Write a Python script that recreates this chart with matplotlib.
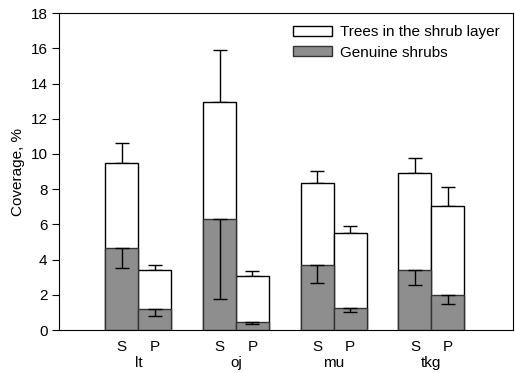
import numpy as np
import matplotlib.pyplot as plt
from matplotlib.patches import Patch

plt.rcParams['font.family'] = ['Liberation Sans', 'DejaVu Sans']

sites = ["lt", "oj", "mu", "tkg"]
subs = ["S", "P"]

# total coverage (trees in shrub layer + genuine shrubs), per site: S, P
total = [[9.5, 3.4], [12.95, 3.05], [8.38, 5.5], [8.9, 7.07]]
total_err = [[1.15, 0.3], [2.95, 0.3], [0.67, 0.42], [0.85, 1.05]]
genuine = [[4.65, 1.2], [6.3, 0.45], [3.7, 1.28], [3.4, 1.99]]
genuine_err = [[1.15, 0.42], [4.55, 0.12], [1.0, 0.28], [0.86, 0.52]]

grey = "#8e8e8e"

fig = plt.figure(figsize=(5.15, 3.73), dpi=100)
ax = fig.add_axes([0.115, 0.115, 0.882, 0.85])

w = 0.337
pos = np.arange(1, len(sites) + 1)
ticks, ticklabels = [], []
for i, site in enumerate(sites):
    for j, s in enumerate(subs):
        x = pos[i] + (j - 0.5) * w
        ax.bar(x, total[i][j], width=w, color="white", edgecolor="black", linewidth=1.0, zorder=2)
        ax.errorbar(x, total[i][j], yerr=[[0], [total_err[i][j]]], color="black",
                    capsize=5, capthick=1, elinewidth=1, zorder=1)
        ax.bar(x, genuine[i][j], width=w, color=grey, edgecolor="#333333", linewidth=1.0, zorder=3)
        ax.errorbar(x, genuine[i][j], yerr=[[genuine_err[i][j]], [0]], color="black",
                    capsize=5, capthick=1, elinewidth=1, zorder=4)
        ticks.append(x)
        ticklabels.append(s)

ax.set_xlim(0.19, 4.84)
ax.set_ylim(0, 18)
ax.set_yticks(range(0, 19, 2))
ax.set_xticks(ticks)
ax.set_xticklabels(ticklabels, fontsize=11)
ax.tick_params(axis="x", length=0, pad=7)
ax.tick_params(axis="y", labelsize=11, direction="out", length=5)
for i, site in enumerate(sites):
    ax.text(pos[i], -0.083, site, transform=ax.get_xaxis_transform(),
            ha="center", va="top", fontsize=11)

ax.set_ylabel("Coverage, %", fontsize=11, labelpad=4)

handles = [Patch(facecolor="white", edgecolor="black", label="Trees in the shrub layer"),
           Patch(facecolor=grey, edgecolor="#333333", label="Genuine shrubs")]
ax.legend(handles=handles, loc="upper right", frameon=False, fontsize=11,
          handlelength=2.6, handleheight=0.6, labelspacing=0.42, handletextpad=0.5,
          bbox_to_anchor=(1.0, 1.005))

fig.savefig("out.png", dpi=100)
